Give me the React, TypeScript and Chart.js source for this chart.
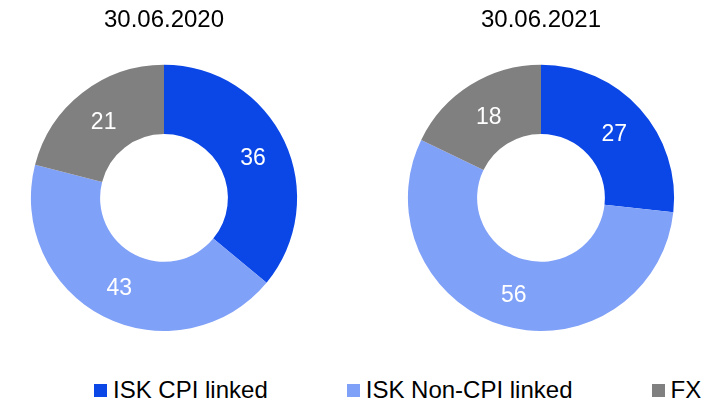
import React, { useEffect, useRef } from "react";
import { Chart, registerables } from "chart.js";

Chart.register(...registerables);

const categories = ["ISK CPI linked", "ISK Non-CPI linked", "FX"];
const titles = ["30.06.2020", "30.06.2021"];
const values2020 = [36, 43, 21];
const values2021 = [27, 56, 18];
const colors = ["#0B47E6", "#80A1F8", "#808080"];

const FONT = "'Liberation Sans', Arial, sans-serif";

const sliceLabels = {
  id: "sliceLabels",
  afterDatasetsDraw(chart: any) {
    const ctx = chart.ctx;
    const meta = chart.getDatasetMeta(0);
    const data = chart.data.datasets[0].data;
    ctx.save();
    ctx.fillStyle = "#ffffff";
    ctx.font = `23px ${FONT}`;
    ctx.textAlign = "center";
    ctx.textBaseline = "middle";
    meta.data.forEach((arc: any, i: number) => {
      const p = arc.tooltipPosition();
      ctx.fillText(String(data[i]), p.x, p.y + 3);
    });
    ctx.restore();
  },
};

function Donut({ title, values, left }: { title: string; values: number[]; left: number }) {
  const ref = useRef<HTMLCanvasElement | null>(null);
  useEffect(() => {
    if (!ref.current) return;
    const chart = new Chart(ref.current, {
      type: "doughnut",
      data: {
        labels: categories,
        datasets: [
          {
            data: values,
            backgroundColor: colors,
            borderWidth: 0,
            hoverOffset: 0,
          },
        ],
      },
      options: {
        responsive: false,
        animation: false,
        cutout: "48%",
        layout: { padding: 0 },
        plugins: {
          legend: { display: false },
          tooltip: { enabled: false },
          title: {
            display: true,
            text: title,
            color: "#000000",
            font: { family: FONT, size: 24, weight: "normal" },
            padding: { top: 6, bottom: 30 },
          },
        },
      },
      plugins: [sliceLabels],
    });
    return () => chart.destroy();
  }, [title, values]);
  return (
    <canvas
      ref={ref}
      width={328}
      height={331}
      style={{ position: "absolute", left, top: 0, width: 328, height: 331 }}
    />
  );
}

export default function App() {
  return (
    <div
      style={{
        position: "absolute",
        left: 0,
        top: 0,
        width: 724,
        height: 404,
        background: "#ffffff",
        overflow: "hidden",
      }}
    >
      <Donut title={titles[0]} values={values2020} left={0} />
      <Donut title={titles[1]} values={values2021} left={377} />
      <div
        style={{
          position: "absolute",
          left: 94,
          top: 376,
          display: "flex",
          alignItems: "center",
          gap: 79,
          fontFamily: FONT,
          fontSize: 24,
          color: "#000000",
          whiteSpace: "nowrap",
          lineHeight: "28px",
        }}
      >
        {categories.map((c, i) => (
          <div key={c} style={{ display: "flex", alignItems: "center" }}>
            <span
              style={{
                display: "inline-block",
                width: 13,
                height: 13,
                background: colors[i],
                marginRight: 6,
              }}
            />
            <span>{c}</span>
          </div>
        ))}
      </div>
    </div>
  );
}
